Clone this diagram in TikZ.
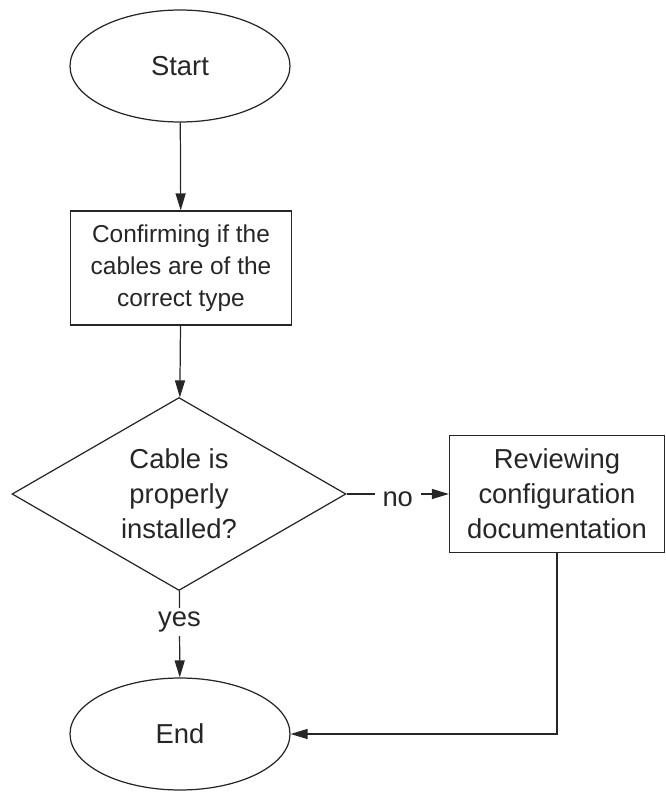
\documentclass[tikz,border=0pt]{standalone}
\usepackage{fontspec}
\setmainfont{Liberation Sans}
\usetikzlibrary{shapes.geometric, arrows.meta}

\begin{document}
\begin{tikzpicture}[x=0.02cm, y=-0.02cm, line width=0.7pt, color=black!85,
  terminal/.style={draw, ellipse, minimum width=4.4cm, minimum height=2.24cm, inner sep=0pt},
  process/.style={draw, rectangle, align=center, inner sep=0pt},
  decision/.style={draw, diamond, aspect=1.73, minimum width=6.68cm, minimum height=3.86cm, inner sep=0pt, align=center},
  big/.style={font=\fontsize{15.6}{19.9}\selectfont},
  small/.style={font=\fontsize{13.9}{18.2}\selectfont},
  arr/.style={-{Triangle[length=0.34cm,width=0.2cm]}},
  lbl/.style={big, fill=white, inner xsep=0.16cm, inner ysep=0.08cm}]

\useasboundingbox (0,0) rectangle (666,792);

\node[terminal, big] (start) at (180,66) {Start};
\node[process, small, minimum width=4.42cm, minimum height=2.28cm] (confirm) at (181,268) {Confirming if the\\cables are of the\\correct type};
\node[decision, big] (cable) at (179,494) {Cable is\\properly\\installed?};
\node[process, big, minimum width=4.3cm, minimum height=2.34cm] (review) at (557,494) {Reviewing\\configuration\\documentation};
\node[terminal, big] (end) at (180,734) {End};

\draw[arr] (start) -- (confirm);
\draw[arr] (confirm) -- (cable);
\draw[arr] (cable) -- node[lbl, yshift=-0.1cm] {no} (review);
\draw[arr] (cable) -- node[lbl, pos=0.36] {yes} (end);
\draw[arr] (review) |- (end);

\end{tikzpicture}
\end{document}
